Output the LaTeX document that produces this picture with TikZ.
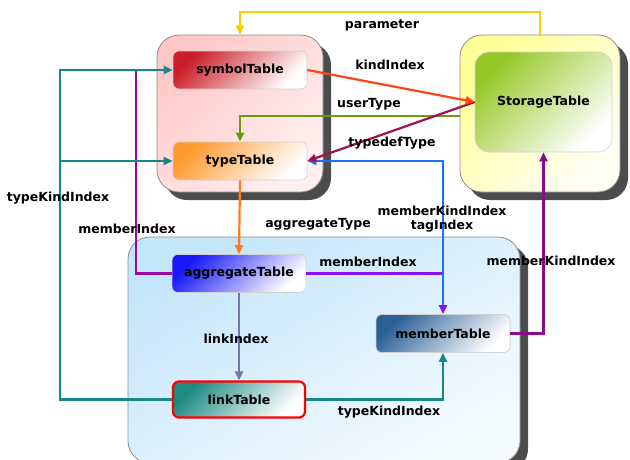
\documentclass[tikz,border=0pt]{standalone}
\usepackage{fontspec}
\setmainfont{DejaVu Sans}
\usetikzlibrary{arrows.meta,shadows}

\definecolor{paramc}{HTML}{FFC800}
\definecolor{kindc}{HTML}{FF4418}
\definecolor{userc}{HTML}{6A9A12}
\definecolor{typedefc}{HTML}{A0124C}
\definecolor{tagc}{HTML}{1A70FF}
\definecolor{aggc}{HTML}{FF7A1E}
\definecolor{membc}{HTML}{8A10F0}
\definecolor{memlc}{HTML}{9A0AA0}
\definecolor{mkic}{HTML}{8A0A8A}
\definecolor{tkc}{HTML}{16888A}
\definecolor{linkc}{HTML}{7474B0}
% fills
\definecolor{symc}{HTML}{CC1E28}
\definecolor{typc}{HTML}{FF9A30}
\definecolor{aggfc}{HTML}{1818F8}
\definecolor{linkfc}{HTML}{1E8A84}
\definecolor{memfc}{HTML}{2A6096}
\definecolor{storc}{HTML}{96C828}
\definecolor{pinkA}{HTML}{FFC8C8}
\definecolor{pinkB}{HTML}{FFF0F0}
\definecolor{yelA}{HTML}{FFFF98}
\definecolor{yelB}{HTML}{FFFFF4}
\definecolor{bluA}{HTML}{C4E6FA}
\definecolor{bluB}{HTML}{F4FAFF}

\tikzset{
  x=1pt, y=1pt,
  container/.style={draw=black!45, line width=0.8pt, rounded corners=22pt,
    drop shadow={shadow xshift=8pt, shadow yshift=-8pt, fill=black!70, opacity=1}},
  tbl/.style={draw=black!18, line width=0.6pt, rounded corners=6pt,
    minimum width=134pt, minimum height=38pt, inner sep=0pt,
    font=\fontsize{12.5}{14}\selectfont\bfseries, text=black},
  grad/.style={top color=#1, middle color=#1!40!white, bottom color=white, shading angle=45},
  lbl/.style={font=\fontsize{12.5}{14}\selectfont\bfseries, inner sep=0pt, text=black},
  conn/.style={line width=2.2pt, -{Triangle[length=9pt,width=8pt]}},
  plain/.style={line width=2.2pt},
}

\begin{document}
\begin{tikzpicture}
\useasboundingbox (0,0) rectangle (630,-459);
\clip (0,0) rectangle (630,-459);

% group containers
\node[container, minimum width=166pt, minimum height=157pt,
      top color=pinkA, bottom color=pinkB, shading angle=45] (typeBox) at (240,-113.5) {};
\node[container, minimum width=160pt, minimum height=157pt,
      top color=yelA, bottom color=yelB, shading angle=45] (storageBox) at (540,-113.5) {};
\node[container, minimum width=392pt, minimum height=226pt,
      top color=bluA, bottom color=bluB, shading angle=30] (memberBox) at (324,-350) {};

% tables
\node[tbl, grad={symc}] (symbolTable) at (240,-70) {symbolTable};
\node[tbl, grad={typc}] (typeTable) at (240,-161) {typeTable};
\node[tbl, grad={aggfc}] (aggregateTable) at (239,-273.5) {aggregateTable};
\node[tbl, grad={linkfc}, draw=red, line width=2.2pt, minimum width=132pt, minimum height=36pt] (linkTable) at (239,-399.5) {linkTable};
\node[tbl, grad={memfc}] (memberTable) at (443,-333.5) {memberTable};
\node[tbl, top color=storc, middle color=storc!45!white, bottom color=white, shading angle=45,
      rounded corners=14pt, minimum width=137pt, minimum height=100pt] (StorageTable) at (543.5,-102) {StorageTable};

% helper points
\coordinate (paramTop) at (0,-12);
\coordinate (tkLeft) at (60,0);
\coordinate (memLeft) at (136,0);

% connectors
\draw[conn, paramc] (storageBox.north) |- (paramTop -| typeBox.north) -- (typeBox.north);
\draw[conn, userc] (storageBox.west |- 0,-116) -| (typeTable.north);
\draw[conn, aggc] (typeTable.south) -- (aggregateTable.north);
\draw[conn, linkc] (aggregateTable.south) -- (linkTable.north);
\draw[conn, membc] (aggregateTable.east) -| (memberTable.north);
\draw[conn, tagc, shorten <=9pt] (memberTable.north) |- (typeTable.east);
\draw[conn, typedefc] (StorageTable.west) -- (typeTable.east);
\draw[conn, kindc] (symbolTable.east) -- (StorageTable.west);
\draw[conn, tkc] (linkTable.east) -| (memberTable.south);
\draw[conn, mkic] (memberTable.east) -| (StorageTable.south);
\draw[plain, memlc] (aggregateTable.west) -| (memLeft |- symbolTable.west);
\draw[conn, tkc] (linkTable.west) -| (tkLeft |- symbolTable.west) -- (symbolTable.west);
\draw[conn, tkc] (tkLeft |- typeTable.west) -- (typeTable.west);

% labels
\node[lbl] (lParam) at (382,-25) {parameter};
\node[lbl] (lKind) at (390,-65) {kindIndex};
\node[lbl] (lUser) at (369,-104) {userType};
\node[lbl] (lTypedef) at (392,-143) {typedefType};
\node[lbl] (lMki) at (442,-211) {memberKindIndex};
\node[lbl] (lTag) at (442,-226) {tagIndex};
\node[lbl] (lAgg) at (318,-224) {aggregateType};
\node[lbl] (lMem) at (368,-262) {memberIndex};
\node[lbl] (lMemL) at (127,-229) {memberIndex};
\node[lbl] (lTkL) at (58,-198) {typeKindIndex};
\node[lbl] (lLink) at (236,-339) {linkIndex};
\node[lbl] (lTkR) at (389,-412) {typeKindIndex};
\node[lbl] (lMkiR) at (551,-261) {memberKindIndex};
\end{tikzpicture}
\end{document}
